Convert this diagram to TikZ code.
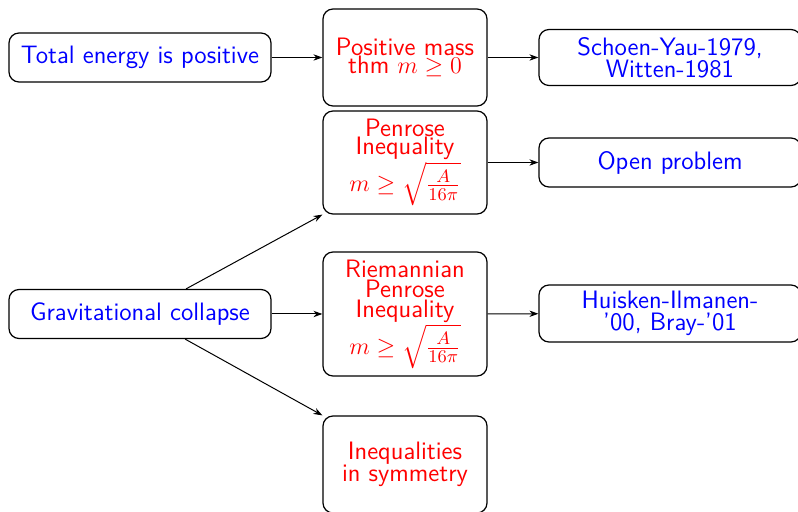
\documentclass[tikz,border=0pt]{standalone}
\usepackage{amsmath}
\usetikzlibrary{arrows.meta}
\newcommand{\bigroot}{\sqrt{\frac{A}{16\pi}\rule[-5pt]{0pt}{16.5pt}}}
\begin{document}
\begin{tikzpicture}[x=0.5pt,y=-0.5pt,
  box/.style={draw=black, line width=0.6pt, rounded corners=5pt, inner sep=0pt, align=center},
  bluebox/.style={box, text=blue, font=\sffamily\fontsize{12.6}{11}\selectfont, minimum width=131pt},
  redbox/.style={box, text=red, font=\sffamily\fontsize{12.6}{9}\selectfont, minimum width=82pt},
  arr/.style={-{Stealth[length=4.5pt,width=3.2pt]}, line width=0.5pt}]
\useasboundingbox (0,0) rectangle (798,512);
\clip (0,0) rectangle (798,512);
\node[bluebox, minimum height=24.5pt] (energy) at (140,57.5) {Total energy is positive};
\node[redbox, minimum height=48.5pt] (pos) at (405,57.5) {Positive mass\\ thm $m\geq 0$};
\node[bluebox, minimum height=28pt] (schoen) at (670,57.5) {Schoen-Yau-1979,\\ Witten-1981};
\node[redbox, minimum height=51.5pt] (pen) at (405,162.5) {Penrose\\ Inequality\\ $m\geq\bigroot$};
\node[bluebox, minimum height=24.5pt] (open) at (670,162.5) {Open problem};
\node[bluebox, minimum height=24.5pt] (grav) at (140,314) {Gravitational collapse};
\node[redbox, minimum height=62pt, font=\sffamily\fontsize{12.6}{10}\selectfont] (riem) at (405,314) {Riemannian\\ Penrose\\ Inequality\\ $m\geq\bigroot$};
\node[bluebox, minimum height=28.5pt] (huis) at (670,313.5) {Huisken-Ilmanen-\\ '00, Bray-'01};
\node[redbox, minimum height=48.5pt, font=\sffamily\fontsize{12.6}{11}\selectfont] (ineq) at (405,464.5) {Inequalities\\ in symmetry};
\draw[arr] (energy) -- (pos);
\draw[arr] (pos) -- (schoen);
\draw[arr] (pen) -- (open);
\draw[arr] (grav) -- (riem);
\draw[arr] (riem) -- (huis);
\draw[arr] (grav) -- (pen.south west);
\draw[arr] (grav) -- (ineq.north west);
\end{tikzpicture}
\end{document}
